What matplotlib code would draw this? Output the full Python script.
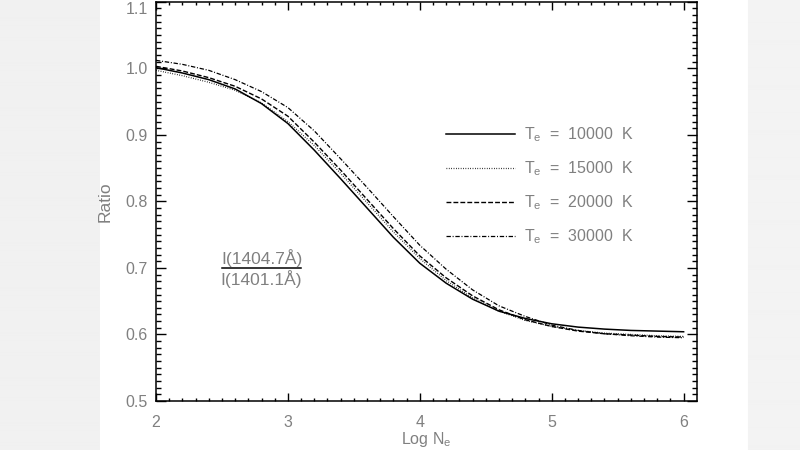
import matplotlib
matplotlib.use("Agg")
import matplotlib.pyplot as plt
import numpy as np

# Log Ne grid (every 0.2 dex)
log_ne = [2.0, 2.2, 2.4, 2.6, 2.8, 3.0, 3.2, 3.4, 3.6, 3.8, 4.0,
          4.2, 4.4, 4.6, 4.8, 5.0, 5.2, 5.4, 5.6, 5.8, 6.0]

ratio_10000 = [1.001, 0.993, 0.983, 0.969, 0.947, 0.917, 0.877, 0.834, 0.790, 0.746, 0.707,
               0.677, 0.653, 0.635, 0.624, 0.616, 0.611, 0.608, 0.606, 0.605, 0.604]
ratio_15000 = [0.997, 0.989, 0.979, 0.967, 0.948, 0.920, 0.884, 0.842, 0.798, 0.754, 0.714,
               0.681, 0.655, 0.635, 0.621, 0.612, 0.606, 0.602, 0.600, 0.598, 0.597]
ratio_20000 = [1.003, 0.996, 0.986, 0.973, 0.954, 0.928, 0.889, 0.847, 0.803, 0.759, 0.718,
               0.685, 0.658, 0.637, 0.622, 0.612, 0.605, 0.601, 0.599, 0.597, 0.596]
ratio_30000 = [1.012, 1.006, 0.997, 0.983, 0.965, 0.941, 0.906, 0.864, 0.821, 0.777, 0.734,
               0.698, 0.667, 0.643, 0.627, 0.614, 0.606, 0.601, 0.598, 0.596, 0.595]

temps = [10000, 15000, 20000, 30000]
y_ticks = [0.5, 0.6, 0.7, 0.8, 0.9, 1.0, 1.1]
x_ticks = [2, 3, 4, 5, 6]

GREY = "#808080"

plt.rcParams["font.family"] = ["Liberation Sans", "DejaVu Sans"]
plt.rcParams["mathtext.fontset"] = "custom"
plt.rcParams["mathtext.rm"] = "Liberation Sans"
plt.rcParams["mathtext.default"] = "regular"

fig = plt.figure(figsize=(8, 4.5), dpi=100)

# blurred grey side strips of the screenshot
bg = fig.add_axes([0, 0, 1, 1], zorder=-10)
cols = np.arange(800)
shade = np.ones(800)
shade[cols < 100] = 0.945
shade[cols >= 748] = 0.95
bg.imshow(np.tile(shade, (10, 1)), cmap="gray", vmin=0, vmax=1, aspect="auto",
          extent=[0, 1, 0, 1], interpolation="bilinear")
bg.axis("off")

ax = fig.add_axes([0.195, 0.109, 0.676, 0.887])

styles = [
    dict(linestyle="-", linewidth=1.1),
    dict(linestyle=(0, (0.6, 1.3)), linewidth=0.9),
    dict(linestyle=(0, (3.5, 1.5)), linewidth=1.0),
    dict(linestyle=(0, (3.5, 1.4, 0.8, 1.4)), linewidth=0.9),
]
series = [ratio_10000, ratio_15000, ratio_20000, ratio_30000]
for t, r, st in zip(temps, series, styles):
    ax.plot(log_ne, r, color="black", label=r"T$_{e}$  =  %d  K" % t, **st)

ax.set_xlim(2, 6.1)
ax.set_ylim(0.5, 1.1)
ax.set_xticks(x_ticks)
ax.set_yticks(y_ticks)
ax.set_yticklabels(["%.1f" % v for v in y_ticks])
ax.set_xticks(np.arange(2, 6.1, 0.1), minor=True)
ax.set_yticks(np.arange(0.5, 1.1, 0.01), minor=True)

ax.tick_params(axis="both", which="both", direction="in", top=True, right=True,
               colors="black", labelcolor=GREY, labelsize=11.5, width=1.0)
ax.tick_params(axis="x", which="major", length=5.5, pad=10)
ax.tick_params(axis="x", which="minor", length=2.4)
ax.tick_params(axis="y", which="major", length=7.2, pad=6)
ax.tick_params(axis="y", which="minor", length=3.6)
ax.get_yticklabels()[-1].set_verticalalignment("top")
for sp in ax.spines.values():
    sp.set_linewidth(1.1)

ax.set_xlabel(r"Log N$_{e}$", color=GREY, fontsize=11.5, labelpad=0)
ax.set_ylabel("Ratio", color=GREY, fontsize=12.5, labelpad=9)

leg = ax.legend(loc="upper left", bbox_to_anchor=(0.536, 0.69), frameon=False,
                handlelength=4.3, handletextpad=0.6, labelspacing=0.95,
                borderpad=0, borderaxespad=0, fontsize=11.5)
for txt in leg.get_texts():
    txt.set_color(GREY)

# line ratio label
ax.text(2.8, 0.7015, "I(1404.7Å)", ha="center", va="bottom", color=GREY, fontsize=12.5)
ax.text(2.8, 0.6975, "I(1401.1Å)", ha="center", va="top", color=GREY, fontsize=12.5)
ax.plot([2.5, 3.1], [0.6995, 0.6995], color="black", linewidth=1.1)

fig.savefig("out.png", dpi=100)
